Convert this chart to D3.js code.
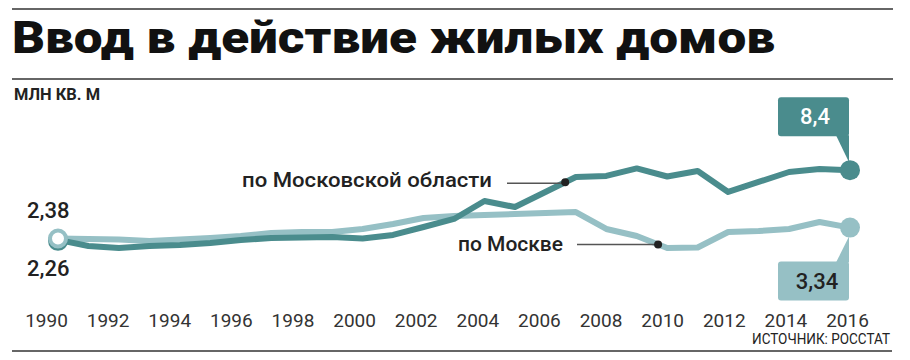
<!DOCTYPE html>
<html><head><meta charset="utf-8">
<script src="https://cdn.jsdelivr.net/npm/d3@7"></script>
<style>
body{margin:0;background:#fff;}
svg{display:block;}
</style></head>
<body>
<svg id="chart" width="910" height="360"></svg>
<script>
const years = d3.range(1990, 2017);
const oblast = [2.26,1.72,1.54,1.72,1.81,1.98,2.25,2.42,2.47,2.51,2.38,2.69,3.39,4.10,5.68,5.15,6.48,7.80,7.89,8.55,7.84,8.33,6.48,7.36,8.24,8.50,8.40];
const moscow = [2.38,2.33,2.29,2.16,2.29,2.42,2.60,2.86,2.95,2.95,3.22,3.66,4.19,4.36,4.45,4.54,4.63,4.71,3.22,2.60,1.54,1.59,2.95,3.04,3.22,3.83,3.34];
const tickYears = [1990,1992,1994,1996,1998,2000,2002,2004,2006,2008,2010,2012,2014,2016];
const title = "Ввод в действие жилых домов";
const unitLabel = "МЛН КВ. М";
const sourceLabel = "ИСТОЧНИК: РОССТАТ";
const oblastName = "по Московской области";
const moscowName = "по Москве";
const startLabels = ["2,38","2,26"];
const endLabels = ["8,4","3,34"];

const darkC = "#4a8c8d", lightC = "#96c0c5", ink = "#222";
const svg = d3.select("#chart");
const x = d3.scaleLinear().domain([1990,2016]).range([58,850]);
const xTick = d3.scaleLinear().domain([1990,2016]).range([46,847]);
const y = d3.scaleLinear().domain([0,10]).range([265.5,152]);

// rules
svg.append("line").attr("x1",12).attr("x2",893).attr("y1",9).attr("y2",9).attr("stroke","#333").attr("stroke-width",1.6);
svg.append("line").attr("x1",12).attr("x2",893).attr("y1",79).attr("y2",79).attr("stroke","#333").attr("stroke-width",1.6);
svg.append("line").attr("x1",12).attr("x2",892).attr("y1",351).attr("y2",351).attr("stroke","#333").attr("stroke-width",1.6);

svg.append("text").attr("x",12).attr("y",53).text(title)
  .attr("font-family","Roboto, 'DejaVu Sans', sans-serif").attr("font-weight",900).attr("font-size",44)
  .attr("fill","#111").attr("textLength",763).attr("lengthAdjust","spacingAndGlyphs");
svg.append("text").attr("x",14).attr("y",100).text(unitLabel)
  .attr("font-family","Roboto, sans-serif").attr("font-weight",700).attr("font-size",17)
  .attr("fill","#222").attr("textLength",86).attr("lengthAdjust","spacingAndGlyphs");
svg.append("text").attr("x",890).attr("y",344).attr("text-anchor","end").text(sourceLabel)
  .attr("font-family","Roboto, sans-serif").attr("font-weight",400).attr("font-size",15)
  .attr("fill","#222").attr("textLength",138).attr("lengthAdjust","spacingAndGlyphs");

// axis
const ax = svg.append("g").attr("transform","translate(0,313)")
  .call(d3.axisBottom(xTick).tickValues(tickYears).tickSize(0).tickPadding(0).tickFormat(d=>d));
ax.select(".domain").remove();
ax.selectAll("text").attr("font-family","Roboto, sans-serif").attr("font-size",19).attr("fill","#333")
  .attr("dy","0.71em").attr("y",0);

const line = d3.line().x((d,i)=>x(years[i])).y(d=>y(d));
svg.append("path").datum(moscow).attr("d",line).attr("fill","none").attr("stroke",lightC).attr("stroke-width",6).attr("stroke-linejoin","round");
svg.append("path").datum(oblast).attr("d",line).attr("fill","none").attr("stroke",darkC).attr("stroke-width",6).attr("stroke-linejoin","round");

// start markers
svg.append("circle").attr("cx",x(1990)).attr("cy",y(oblast[0])+1).attr("r",10).attr("fill",darkC);
svg.append("circle").attr("cx",x(1990)).attr("cy",y(moscow[0])).attr("r",8).attr("fill","#fff").attr("stroke",lightC).attr("stroke-width",4);
svg.append("text").attr("x",27).attr("y",218).text(startLabels[0])
  .attr("font-family","Roboto, sans-serif").attr("font-weight",500).attr("font-size",22).attr("fill",ink);
svg.append("text").attr("x",27).attr("y",276).text(startLabels[1])
  .attr("font-family","Roboto, sans-serif").attr("font-weight",500).attr("font-size",22).attr("fill",ink);

// end markers & callouts
const ex = x(2016), eyO = y(oblast[26]), eyM = y(moscow[26]);
svg.append("path").attr("d",`M${ex-14},${eyO-35} L${ex-1},${eyO-35} L${ex-1},${eyO-8} Z`).attr("fill",darkC);
svg.append("rect").attr("x",ex-72).attr("y",eyO-73).attr("width",71).attr("height",39).attr("rx",3).attr("fill",darkC);
svg.append("circle").attr("cx",ex).attr("cy",eyO).attr("r",10).attr("fill",darkC);
svg.append("text").attr("x",ex-35).attr("y",eyO-46).attr("text-anchor","middle").text(endLabels[0])
  .attr("font-family","Roboto, sans-serif").attr("font-weight",500).attr("font-size",22).attr("fill","#fff");

svg.append("path").attr("d",`M${ex-1},${eyM+9} L${ex-14},${eyM+35} L${ex-1},${eyM+35} Z`).attr("fill",lightC);
svg.append("rect").attr("x",ex-72).attr("y",eyM+34).attr("width",71).attr("height",39).attr("rx",3).attr("fill",lightC);
svg.append("circle").attr("cx",ex).attr("cy",eyM).attr("r",10).attr("fill",lightC);
svg.append("text").attr("x",ex-33).attr("y",eyM+61).attr("text-anchor","middle").text(endLabels[1])
  .attr("font-family","Roboto, sans-serif").attr("font-weight",500).attr("font-size",22).attr("fill",ink);

// series labels with leaders
const dO = [x(2006.65), y(7.8*0.65+6.48*0.35)];
svg.append("line").attr("x1",507).attr("x2",dO[0]).attr("y1",dO[1]+1).attr("y2",dO[1]+1).attr("stroke","#555").attr("stroke-width",1.5);
svg.append("circle").attr("cx",dO[0]).attr("cy",dO[1]).attr("r",4).attr("fill",ink);
svg.append("text").attr("x",242).attr("y",187).text(oblastName)
  .attr("font-family","Roboto, sans-serif").attr("font-weight",500).attr("font-size",20).attr("fill",ink)
  .attr("textLength",250).attr("lengthAdjust","spacingAndGlyphs");

const dM = [x(2009.7), y(2.6*0.3+1.54*0.7)];
svg.append("line").attr("x1",577).attr("x2",dM[0]).attr("y1",dM[1]).attr("y2",dM[1]).attr("stroke","#555").attr("stroke-width",1.5);
svg.append("circle").attr("cx",dM[0]).attr("cy",dM[1]).attr("r",4).attr("fill",ink);
svg.append("text").attr("x",458).attr("y",251).text(moscowName)
  .attr("font-family","Roboto, sans-serif").attr("font-weight",500).attr("font-size",20).attr("fill",ink)
  .attr("textLength",105).attr("lengthAdjust","spacingAndGlyphs");
</script>
</body></html>
